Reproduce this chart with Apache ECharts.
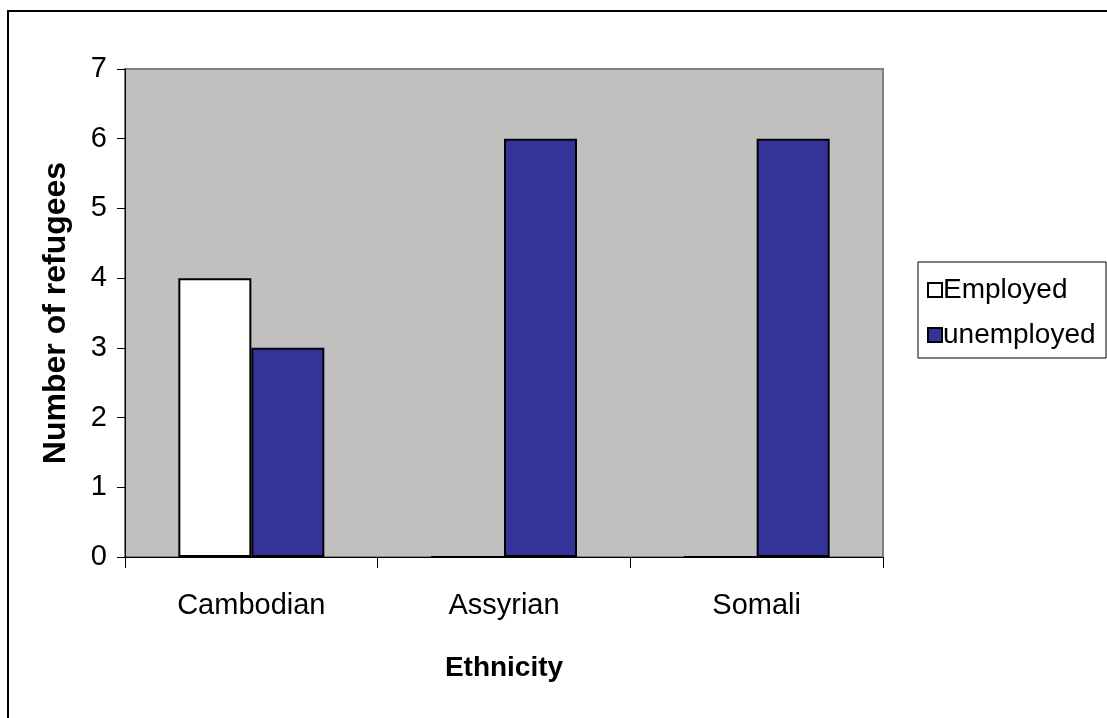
<!DOCTYPE html>
<html>
<head>
<meta charset="utf-8">
<script src="https://cdn.jsdelivr.net/npm/echarts@6/dist/echarts.min.js"></script>
<style>
html,body{margin:0;padding:0;background:#fff;}
#c{width:1107px;height:718px;}
</style>
</head>
<body>
<div id="c"></div>
<script>
const categories = ['Cambodian', 'Assyrian', 'Somali'];
const employed = [4, 0, 0];
const unemployed = [3, 6, 6];
const seriesNames = ['Employed', 'unemployed'];

const chart = echarts.init(document.getElementById('c'));
const F = '"Liberation Sans", Arial, sans-serif';
chart.setOption({
  animation: false,
  backgroundColor: '#ffffff',
  textStyle: { fontFamily: F, color: '#000' },
  graphic: [
    { type: 'rect', shape: { x: 8, y: 11, width: 1110, height: 720 }, style: { fill: 'none', stroke: '#000', lineWidth: 2 }, z: -10 },
    { type: 'rect', shape: { x: 918, y: 262, width: 188, height: 96 }, style: { fill: 'none', stroke: '#000', lineWidth: 1 }, z: 10 }
  ],
  grid: {
    left: 125, top: 69, right: 224, bottom: 161,
    show: true, backgroundColor: '#C0C0C0', borderColor: '#808080', borderWidth: 2
  },
  legend: {
    orient: 'vertical', left: 922, top: 271,
    itemWidth: 14, itemHeight: 14, itemGap: 17,
    icon: 'rect',
    textStyle: { fontFamily: F, fontSize: 28, color: '#000', padding: [0, 0, 0, -4] },
    data: seriesNames
  },
  xAxis: {
    type: 'category', data: categories,
    axisLine: { lineStyle: { color: '#000', width: 1 } },
    axisTick: { show: true, length: 11, lineStyle: { color: '#000' } },
    axisLabel: { fontFamily: F, fontSize: 29, color: '#000', margin: 34 },
    name: 'Ethnicity', nameLocation: 'middle', nameGap: 97,
    nameTextStyle: { fontFamily: F, fontSize: 28, fontWeight: 'bold', color: '#000' }
  },
  yAxis: {
    type: 'value', min: 0, max: 7, interval: 1,
    axisLine: { show: true, lineStyle: { color: '#000', width: 1 } },
    axisTick: { show: true, length: 8, lineStyle: { color: '#000' } },
    splitLine: { show: false },
    axisLabel: { fontFamily: F, fontSize: 29, color: '#000', margin: 18 },
    name: 'Number of refugees', nameLocation: 'middle', nameGap: 53,
    nameTextStyle: { fontFamily: F, fontSize: 32, fontWeight: 'bold', color: '#000' }
  },
  series: [
    { name: seriesNames[0], type: 'bar', data: employed, barWidth: 73, barGap: '0%',
      itemStyle: { color: '#ffffff', borderColor: '#000', borderWidth: 2 } },
    { name: seriesNames[1], type: 'bar', data: unemployed, barWidth: 73, barGap: '0%',
      itemStyle: { color: '#333399', borderColor: '#000', borderWidth: 2 } }
  ]
});
</script>
</body>
</html>
